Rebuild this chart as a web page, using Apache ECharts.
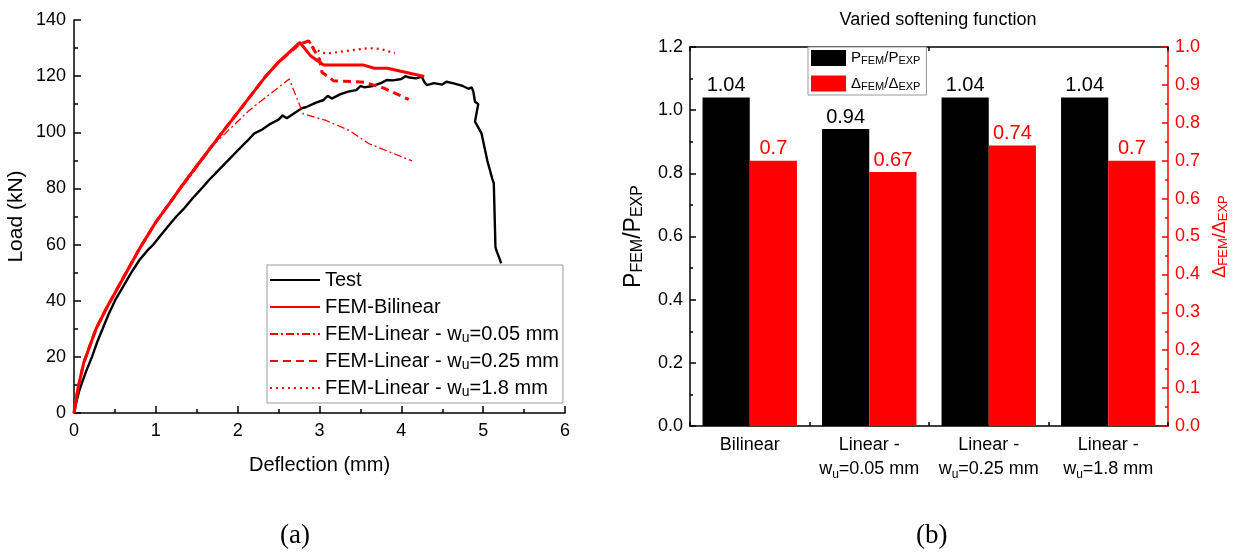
<!DOCTYPE html>
<html><head><meta charset="utf-8">
<script src="https://cdn.jsdelivr.net/npm/echarts@6/dist/echarts.min.js"></script>
<style>html,body{margin:0;padding:0;background:#fff}#c{width:1237px;height:556px}</style>
</head><body><div id="c"></div>
<script>
// ---------- Panel (a): load-deflection data ----------
const testX = [0,0.03,0.06,0.1,0.15,0.22,0.28,0.35,0.42,0.5,0.6,0.7,0.8,0.9,0.97,1.05,1.15,1.25,1.35,1.45,1.56,1.65,1.75,1.85,1.95,2.05,2.12,2.2,2.3,2.4,2.5,2.55,2.6,2.7,2.78,2.84,2.95,3.05,3.1,3.15,3.25,3.35,3.45,3.5,3.55,3.65,3.75,3.82,3.9,4.0,4.05,4.1,4.18,4.25,4.28,4.31,4.4,4.5,4.55,4.64,4.75,4.82,4.86,4.88,4.9,4.94,4.9,4.98,5.05,5.11,5.13,5.15,5.16,5.2,5.22];
const testY = [0,4,7.5,11,15,20,25,30,35,40,45,50,54.5,58,60,63,66.5,70,73,76.5,80,83,86,89,92,95,97,99.5,101,103,104.5,106,105,107,108.5,109,110.5,111.5,113,112,113.5,114.5,115,116.5,116,116.5,117.5,118.6,118.5,119,120,119.5,119.2,119.8,118,116.8,117.5,117,118,117.4,116.5,115.5,116,114.5,110.9,110.1,103.8,99.6,90,83.6,81.8,59.2,58,55,53.3];

const bilX = [0,0.05,0.12,0.27,0.4,0.6,0.8,1.0,1.2,1.32,1.5,1.8,2.0,2.33,2.5,2.76,2.89,3.05,3.53,3.67,3.83,4.28];
const bilY = [0,9,18,30,37.5,48,58.5,68,76,81,88,99.5,107,119.5,125,132,127.3,124,124,122.8,122.8,119.9];

const l005X = [0,0.05,0.12,0.27,0.4,0.6,0.8,1.0,1.2,1.35,1.72,2.14,2.63,2.8,3.08,3.36,3.6,4.13];
const l005Y = [0,9,18,30,37.5,48,58.5,68,76,81.5,96,107.8,119,106.6,104.2,100.7,96,89.8];

const l025X = [0,0.05,0.12,0.27,0.4,0.6,0.8,1.0,1.2,1.32,1.5,1.8,2.0,2.33,2.5,2.76,2.87,3.0,3.03,3.17,3.55,3.78,4.09];
const l025Y = [0,9,18,30,37.5,48,58.5,68,76,81,88,99.5,107,119.5,125,131.5,132.5,126,121.4,118.4,117.8,115.8,111.7];

const l18X = [0,0.05,0.12,0.27,0.4,0.6,0.8,1.0,1.2,1.32,1.5,1.8,2.0,2.33,2.5,2.76,2.87,2.93,2.99,3.08,3.31,3.6,3.74,3.92];
const l18Y = [0,9,18,30,37.5,48,58.5,68,76,81,88,99.5,107,119.5,125,131.5,132.5,130,129,128,128.9,130,129.7,128.2];

const lineNames = ['Test','FEM-Bilinear','FEM-Linear - w_u=0.05 mm','FEM-Linear - w_u=0.25 mm','FEM-Linear - w_u=1.8 mm'];

// ---------- Panel (b): ratio bars ----------
const categories = ['Bilinear','Linear - w_u=0.05 mm','Linear - w_u=0.25 mm','Linear - w_u=1.8 mm'];
const pRatio = [1.04, 0.94, 1.04, 1.04];
const dRatio = [0.7, 0.67, 0.74, 0.7];
const barNames = ['P_FEM/P_EXP','Δ_FEM/Δ_EXP'];

const FONT = 'Liberation Sans, Arial, sans-serif';
const zip = (xs, ys) => xs.map((x, i) => [x, ys[i]]);
const subFmt = s => s.replace(/_([A-Za-z]+)/g, '{s|$1}');
const richSub = (fs) => ({ s: { fontSize: fs, fontFamily: FONT, verticalAlign: 'bottom', padding: [Math.round(fs*0.55),0,0,0] } });

const chart = echarts.init(document.getElementById('c'), null, { renderer: 'canvas' });

const axisLine = (c) => ({ show: true, onZero: false, lineStyle: { color: c, width: 1.5 } });

const option = {
  animation: false,
  backgroundColor: '#fff',
  textStyle: { fontFamily: FONT },
  title: {
    text: 'Varied softening function', left: 933, top: 6, textAlign: 'center',
    textStyle: { fontSize: 18, fontWeight: 'normal', color: '#000', fontFamily: FONT }
  },
  grid: [
    { left: 74, top: 20, width: 491, height: 393, containLabel: false },
    { left: 690, top: 47, width: 478, height: 379, containLabel: false }
  ],
  legend: [
    {
      data: lineNames, orient: 'vertical', left: 267, top: 265,
      itemWidth: 50, itemHeight: 12, itemGap: 5,
      padding: [4, 4, 4, 2],
      borderColor: '#999', borderWidth: 1, backgroundColor: '#fff',
      itemStyle: { opacity: 0, borderWidth: 0 },
      formatter: subFmt,
      textStyle: { fontSize: 20, lineHeight: 22, color: '#000', fontFamily: FONT, rich: richSub(14) }
    },
    {
      data: barNames, orient: 'vertical', left: 808, top: 47,
      icon: 'rect', itemWidth: 35, itemHeight: 16, itemGap: 9,
      padding: [3, 6, 3, 3],
      borderColor: '#999', borderWidth: 1, backgroundColor: '#fff',
      formatter: subFmt,
      textStyle: { fontSize: 15, color: '#000', fontFamily: FONT, rich: richSub(11) }
    }
  ],
  xAxis: [
    {
      gridIndex: 0, type: 'value', min: 0, max: 6, interval: 1,
      name: 'Deflection (mm)', nameLocation: 'middle', nameGap: 42,
      nameTextStyle: { fontSize: 20, color: '#000', fontFamily: FONT },
      axisLine: axisLine('#000'),
      axisTick: { show: true, inside: true, length: 7, lineStyle: { color: '#000', width: 1.5 } },
      minorTick: { show: true, splitNumber: 2, length: 4, lineStyle: { color: '#000', width: 1.5 } },
      splitLine: { show: false },
      axisLabel: { fontSize: 18, color: '#000', margin: 9, fontFamily: FONT }
    },
    {
      gridIndex: 1, type: 'category', data: categories, position: 'bottom',
      axisLine: axisLine('#000'),
      axisTick: { show: true, inside: true, length: 4, lineStyle: { color: '#000', width: 1.5 } },
      splitLine: { show: false },
      axisLabel: {
        interval: 0, fontSize: 18, color: '#000', margin: 7, lineHeight: 24, fontFamily: FONT,
        formatter: v => subFmt(v.replace(' - ', ' -\n')),
        rich: richSub(12)
      }
    },
    {
      gridIndex: 1, type: 'category', data: categories, position: 'top',
      axisLine: axisLine('#000'),
      axisTick: { show: true, inside: true, length: 4, lineStyle: { color: '#000', width: 1.5 } },
      axisLabel: { show: false }, splitLine: { show: false }
    }
  ],
  yAxis: [
    {
      gridIndex: 0, type: 'value', min: 0, max: 140, interval: 20,
      name: 'Load (kN)', nameLocation: 'middle', nameGap: 47, nameRotate: 90,
      nameTextStyle: { fontSize: 21, color: '#000', fontFamily: FONT },
      axisLine: axisLine('#000'),
      axisTick: { show: true, inside: true, length: 7, lineStyle: { color: '#000', width: 1.5 } },
      minorTick: { show: true, splitNumber: 2, length: 4, lineStyle: { color: '#000', width: 1.5 } },
      splitLine: { show: false },
      axisLabel: { fontSize: 18, color: '#000', margin: 8, fontFamily: FONT }
    },
    {
      gridIndex: 1, type: 'value', min: 0, max: 1.2, interval: 0.2, position: 'left',
      name: subFmt('P_FEM/P_EXP'), nameLocation: 'middle', nameGap: 44, nameRotate: 90,
      nameTextStyle: { fontSize: 23, color: '#000', fontFamily: FONT, rich: richSub(16) },
      axisLine: axisLine('#000'),
      axisTick: { show: true, inside: true, length: 6, lineStyle: { color: '#000', width: 1.5 } },
      minorTick: { show: true, splitNumber: 2, length: 3, lineStyle: { color: '#000', width: 1.5 } },
      splitLine: { show: false },
      axisLabel: { fontSize: 18, color: '#000', margin: 7, fontFamily: FONT, formatter: v => v.toFixed(1) }
    },
    {
      gridIndex: 1, type: 'value', min: 0, max: 1.0, interval: 0.1, position: 'right',
      name: subFmt('Δ_FEM/Δ_EXP'), nameLocation: 'middle', nameGap: 42, nameRotate: 90,
      nameTextStyle: { fontSize: 18, color: '#f00', fontFamily: FONT, rich: richSub(13) },
      axisLine: axisLine('#f00'),
      axisTick: { show: true, inside: true, length: 6, lineStyle: { color: '#f00', width: 1.5 } },
      minorTick: { show: true, splitNumber: 2, length: 3, lineStyle: { color: '#f00', width: 1.5 } },
      splitLine: { show: false },
      axisLabel: { fontSize: 18, color: '#f00', margin: 7, fontFamily: FONT, formatter: v => v.toFixed(1) }
    }
  ],
  series: [
    { name: lineNames[0], type: 'line', xAxisIndex: 0, yAxisIndex: 0, data: zip(testX, testY),
      showSymbol: false, symbol: 'none', lineStyle: { color: '#000', width: 2.4 }, itemStyle: { color: '#000' }, z: 3 },
    { name: lineNames[1], type: 'line', xAxisIndex: 0, yAxisIndex: 0, data: zip(bilX, bilY),
      showSymbol: false, symbol: 'none', lineStyle: { color: '#f00', width: 3 }, itemStyle: { color: '#f00' }, z: 4 },
    { name: lineNames[2], type: 'line', xAxisIndex: 0, yAxisIndex: 0, data: zip(l005X, l005Y),
      showSymbol: false, symbol: 'none', lineStyle: { color: '#f00', width: 1.3, type: [8, 3, 2, 3] }, itemStyle: { color: '#f00' }, z: 4 },
    { name: lineNames[3], type: 'line', xAxisIndex: 0, yAxisIndex: 0, data: zip(l025X, l025Y),
      showSymbol: false, symbol: 'none', lineStyle: { color: '#f00', width: 3, type: [8, 5] }, itemStyle: { color: '#f00' }, z: 4 },
    { name: lineNames[4], type: 'line', xAxisIndex: 0, yAxisIndex: 0, data: zip(l18X, l18Y),
      showSymbol: false, symbol: 'none', lineStyle: { color: '#f00', width: 2.2, type: [2, 4] }, itemStyle: { color: '#f00' }, z: 4 },
    { name: barNames[0], type: 'bar', xAxisIndex: 1, yAxisIndex: 1, data: pRatio,
      barGap: '0%', barCategoryGap: '21%', itemStyle: { color: '#000' },
      label: { show: true, position: 'top', distance: 2, fontSize: 20, color: '#000', fontFamily: FONT } },
    { name: barNames[1], type: 'bar', xAxisIndex: 1, yAxisIndex: 2, data: dRatio,
      barGap: '0%', barCategoryGap: '21%', itemStyle: { color: '#f00' },
      label: { show: true, position: 'top', distance: 2, fontSize: 20, color: '#f00', fontFamily: FONT } }
  ],
  graphic: [
    { type: 'text', left: 280, top: 522, style: { text: '(a)', font: '27px "Liberation Serif", "Times New Roman", serif', fill: '#000' } },
    { type: 'text', left: 916, top: 522, style: { text: '(b)', font: '27px "Liberation Serif", "Times New Roman", serif', fill: '#000' } }
  ]
};
chart.setOption(option);
</script>
</body></html>
